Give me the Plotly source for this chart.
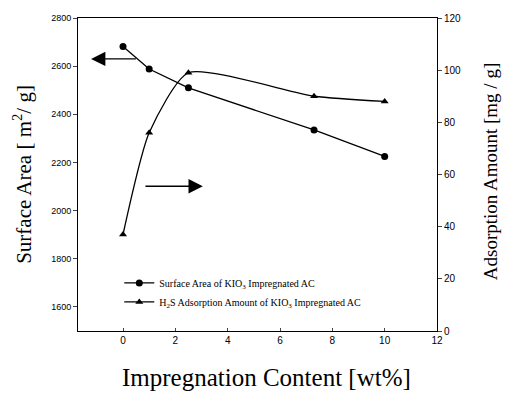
import plotly.graph_objects as go

x_sa = [0, 1, 2.5, 7.3, 10]
surface_area = [2682, 2588, 2510, 2335, 2225]
x_ads = [0, 1, 2.5, 7.3, 10]
adsorption = [37, 76, 99, 90, 88]

x_ticks = [0, 2, 4, 6, 8, 10, 12]
y1_ticks = [1600, 1800, 2000, 2200, 2400, 2600, 2800]
y2_ticks = [0, 20, 40, 60, 80, 100, 120]

serif = "Liberation Serif, Times New Roman, serif"
sans = "Liberation Sans, Arial, sans-serif"

fig = go.Figure()
fig.add_trace(go.Scatter(
    x=x_sa, y=surface_area, mode="lines+markers",
    name="Surface Area of KIO<sub>3</sub> Impregnated AC",
    line=dict(color="black", width=1.3),
    marker=dict(symbol="circle", size=7, color="black"),
    yaxis="y"))
fig.add_trace(go.Scatter(
    x=x_ads, y=adsorption, mode="lines+markers",
    name="H<sub>2</sub>S Adsorption Amount of KIO<sub>3</sub> Impregnated AC",
    line=dict(color="black", width=1.3, shape="spline", smoothing=0.6),
    marker=dict(symbol="triangle-up", size=7, color="black"),
    yaxis="y2"))

fig.update_layout(
    width=515, height=401,
    margin=dict(l=78, r=78, t=13, b=70),
    paper_bgcolor="white", plot_bgcolor="white",
    showlegend=True,
    legend=dict(x=0.115, y=0.2, xanchor="left", yanchor="top",
                bgcolor="rgba(0,0,0,0)", font=dict(family=serif, size=10, color="black"),
                tracegroupgap=0, itemwidth=30),
    xaxis=dict(range=[-1.72, 12], tickvals=x_ticks, ticks="inside", ticklen=3,
               showline=True, linecolor="black", linewidth=1, mirror=True,
               showgrid=False, zeroline=False,
               tickfont=dict(family=sans, size=10, color="black")),
    yaxis=dict(range=[1500, 2800], tickvals=y1_ticks, ticks="outside", ticklen=4,
               showline=True, linecolor="black", linewidth=1,
               showgrid=False, zeroline=False,
               tickfont=dict(family=sans, size=9, color="black")),
    yaxis2=dict(range=[0, 120], tickvals=y2_ticks, ticks="outside", ticklen=4,
                overlaying="y", side="right",
                showline=True, linecolor="black", linewidth=1,
                showgrid=False, zeroline=False,
                tickfont=dict(family=sans, size=10, color="black")),
)

fig.add_annotation(text="Impregnation Content [wt%]", xref="paper", yref="paper",
                   x=0.525, y=-0.148, xanchor="center", yanchor="middle", showarrow=False,
                   font=dict(family=serif, size=25, color="black"))
fig.add_annotation(text="Surface Area [ m<sup>2</sup>/ g]", xref="paper", yref="paper",
                   x=-0.155, y=0.5, xanchor="center", yanchor="middle", showarrow=False,
                   textangle=-90, font=dict(family=serif, size=21, color="black"))
fig.add_annotation(text="Adsorption Amount [mg / g]", xref="paper", yref="paper",
                   x=1.15, y=0.51, xanchor="center", yanchor="middle", showarrow=False,
                   textangle=-90, font=dict(family=serif, size=19, color="black"))

# direction arrows
fig.add_annotation(x=-1.22, y=2630, ax=0.55, ay=2630, xref="x", yref="y", axref="x", ayref="y",
                   text="", showarrow=True, arrowhead=2, arrowsize=2.2, arrowwidth=1.3,
                   arrowcolor="black")
fig.add_annotation(x=3.05, y=55.5, ax=0.8, ay=55.5, xref="x", yref="y2", axref="x", ayref="y2",
                   text="", showarrow=True, arrowhead=2, arrowsize=2.2, arrowwidth=1.3,
                   arrowcolor="black")

fig.write_html("out.html")
